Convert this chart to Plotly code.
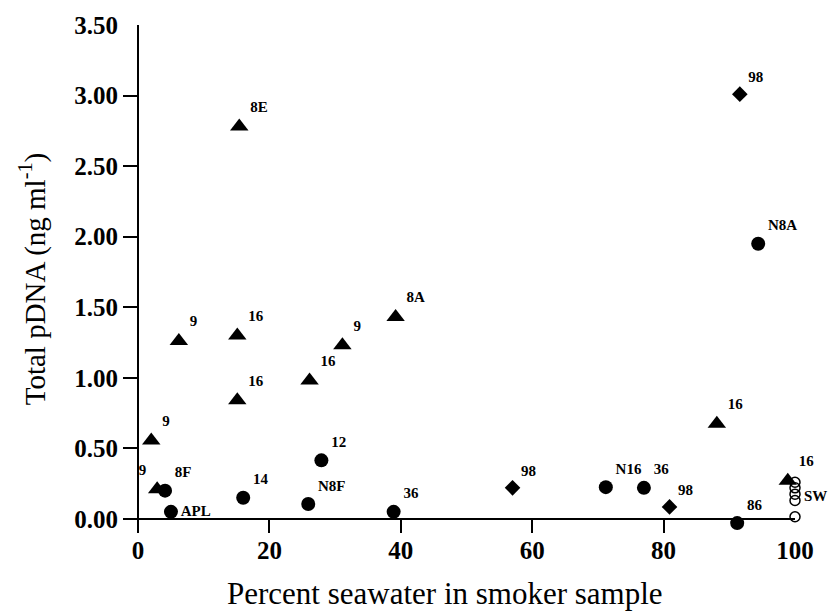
import plotly.graph_objects as go

# Triangles
tri_x = [15.4, 6.2, 15.1, 15.1, 26.1, 31.1, 39.2, 2.0, 2.9, 88.1, 98.9]
tri_y = [2.78, 1.26, 1.30, 0.84, 0.98, 1.23, 1.43, 0.555, 0.21, 0.675, 0.27]
tri_lab = ["8E", "9", "16", "16", "16", "9", "8A", "9", "9", "16", "16"]
tri_pos = ["top right"] * 8 + ["top left", "top right", "top right"]

# Filled circles
cir_x = [4.1, 5.0, 16.0, 27.9, 25.9, 38.9, 71.2, 77.0, 91.2, 94.4]
cir_y = [0.20, 0.05, 0.15, 0.415, 0.105, 0.05, 0.225, 0.22, -0.03, 1.95]
cir_lab = ["8F", "APL", "14", "12", "N8F", "36", "N16", "36", "86", "N8A"]
cir_pos = ["top right", "middle right", "top right", "top right", "top right",
           "top right", "top right", "top right", "top right", "top right"]

# Diamonds
dia_x = [91.6, 57.0, 80.9]
dia_y = [3.01, 0.22, 0.085]
dia_lab = ["98", "98", "98"]

# Open circles (seawater)
sw_x = [100, 100, 100, 100, 100]
sw_y = [0.26, 0.22, 0.175, 0.13, 0.015]
sw_label = "SW"
sw_label_x = 100
sw_label_y = 0.16

x_ticks = [0, 20, 40, 60, 80, 100]
y_ticks = [0.0, 0.5, 1.0, 1.5, 2.0, 2.5, 3.0, 3.5]
y_ticktext = ["0.00", "0.50", "1.00", "1.50", "2.00", "2.50", "3.00", "3.50"]

serif = "Liberation Serif"
lab_font = dict(family=serif, size=15, color="black", weight="bold")

fig = go.Figure()
fig.add_trace(go.Scatter(
    x=tri_x, y=tri_y, mode="markers+text", text=tri_lab, textposition=tri_pos,
    marker=dict(symbol="triangle-up", size=16, color="black"),
    textfont=lab_font, cliponaxis=False, showlegend=False))
fig.add_trace(go.Scatter(
    x=cir_x, y=cir_y, mode="markers+text", text=cir_lab, textposition=cir_pos,
    marker=dict(symbol="circle", size=14, color="black"),
    textfont=lab_font, cliponaxis=False, showlegend=False))
fig.add_trace(go.Scatter(
    x=dia_x, y=dia_y, mode="markers+text", text=dia_lab, textposition="top right",
    marker=dict(symbol="diamond", size=12, color="black"),
    textfont=lab_font, cliponaxis=False, showlegend=False))
fig.add_trace(go.Scatter(
    x=sw_x, y=sw_y, mode="markers",
    marker=dict(symbol="circle-open", size=10, color="black", line=dict(width=1.5)),
    cliponaxis=False, showlegend=False))

fig.add_annotation(
    text=sw_label, x=sw_label_x, y=sw_label_y, xref="x", yref="y",
    xanchor="left", yanchor="middle", xshift=7, showarrow=False,
    font=lab_font)

fig.add_annotation(
    text="Percent seawater in smoker sample", xref="paper", yref="paper",
    x=0.479, y=-0.12, xanchor="center", yanchor="middle", showarrow=False,
    font=dict(family=serif, size=31, color="black"))

fig.update_layout(
    width=831, height=616,
    margin=dict(l=123, r=36, t=20, b=83),
    plot_bgcolor="white", paper_bgcolor="white",
    font=dict(family=serif, color="black"),
    xaxis=dict(
        range=[-2.3, 100], tickvals=x_ticks, ticks="inside", ticklen=14,
        tickwidth=2, tickcolor="black", showgrid=False, showline=False,
        zeroline=True, zerolinecolor="black", zerolinewidth=2,
        tickfont=dict(family=serif, size=25, weight="bold"),
    ),
    yaxis=dict(
        range=[-0.1, 3.5], tickvals=y_ticks, ticktext=y_ticktext,
        ticks="inside", ticklen=15, tickwidth=2, tickcolor="black",
        showgrid=False, showline=False,
        zeroline=True, zerolinecolor="black", zerolinewidth=2,
        tickfont=dict(family=serif, size=25, weight="bold"),
        ticklabelstandoff=4,
        title=dict(text="Total pDNA (ng ml<sup>-1</sup>)",
                   font=dict(family=serif, size=29), standoff=20),
    ),
)

fig.write_html("out.html")
